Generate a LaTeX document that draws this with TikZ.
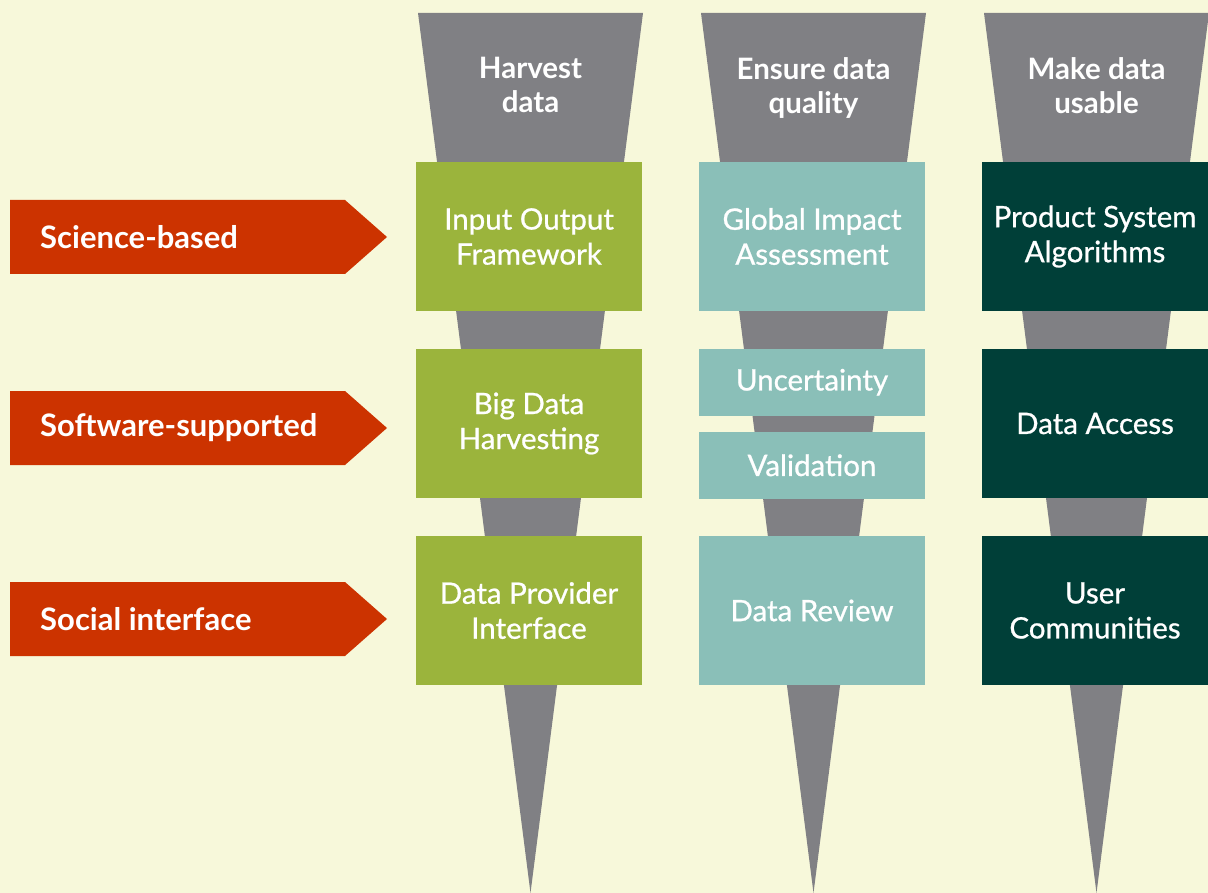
\documentclass[tikz,border=0pt]{standalone}
\usepackage{fontspec}
\setmainfont{Lato}
\newfontface\medfont[FakeBold=0.8]{Lato}
\definecolor{bg}{HTML}{F7F8DA}
\definecolor{fun}{HTML}{808084}
\definecolor{cgreen}{HTML}{9BB43C}
\definecolor{cteal}{HTML}{8ABFB8}
\definecolor{cdark}{HTML}{003F38}
\definecolor{cred}{HTML}{CC3300}
\begin{document}
\begin{tikzpicture}[x=1pt,y=-1pt,
  funnel/.style={fill=fun},
  hdr/.style={text=white,font=\fontsize{29.5}{34}\selectfont\bfseries,align=center,anchor=north,inner sep=0pt},
  box/.style={minimum width=226pt,minimum height=149pt,inner sep=0pt,text=white,
     font=\fontsize{29.5}{35}\selectfont\medfont,align=center},
  smallbox/.style={box,minimum height=66.5pt},
  gbox/.style={box,fill=cgreen},
  tbox/.style={box,fill=cteal},
  tsbox/.style={smallbox,fill=cteal},
  dbox/.style={box,fill=cdark},
  arr/.style={fill=cred},
  arrtext/.style={text=white,font=\fontsize{31}{34}\selectfont\bfseries,anchor=west,inner sep=0pt}]
\fill[bg] (0,0) rectangle (1208,893);
\useasboundingbox (0,0) rectangle (1208,893);
% funnels
\fill[funnel] (418,13) -- (643,13) -- (530.5,893) -- cycle;
\fill[funnel] (701,13) -- (926,13) -- (813.5,893) -- cycle;
\fill[funnel] (984,13) -- (1209,13) -- (1096.5,893) -- cycle;
\node[hdr] (h1) at (530.5,57) {Harvest\\data};
\node[hdr] (h2) at (813.5,57) {Ensure data\\quality};
\node[hdr] (h3) at (1096.5,57) {Make data\\usable};
% column 1
\node[gbox] (a1) at (529,236.5) {Input Output\\Framework};
\node[gbox] (a2) at (529,423.5) {Big Data\\Harvesting};
\node[gbox] (a3) at (529,610.5) {Data Provider\\Interface};
% column 2
\node[tbox] (b1) at (812,236.5) {Global Impact\\Assessment};
\node[tsbox] (b2) at (812,382.25) {Uncertainty};
\node[tsbox] (b3) at (812,465.25) {Validation};
\node[tbox] (b4) at (812,610.5) {Data Review};
% column 3
\node[dbox] (c1) at (1095,236.5) {Product System\\Algorithms};
\node[dbox] (c2) at (1095,423.5) {Data Access};
\node[dbox] (c3) at (1095,610.5) {User\\Communities};
% arrows
\foreach \y/\t/\n in {237/Science-based/r1, 428/Software-supported/r2, 619/Social interface/r3}{
  \fill[arr] (10,\y-37) -- (345,\y-37) -- (387,\y) -- (345,\y+37) -- (10,\y+37) -- cycle;
  \node[arrtext] (\n) at (40,\y) {\t};
}
\end{tikzpicture}
\end{document}
